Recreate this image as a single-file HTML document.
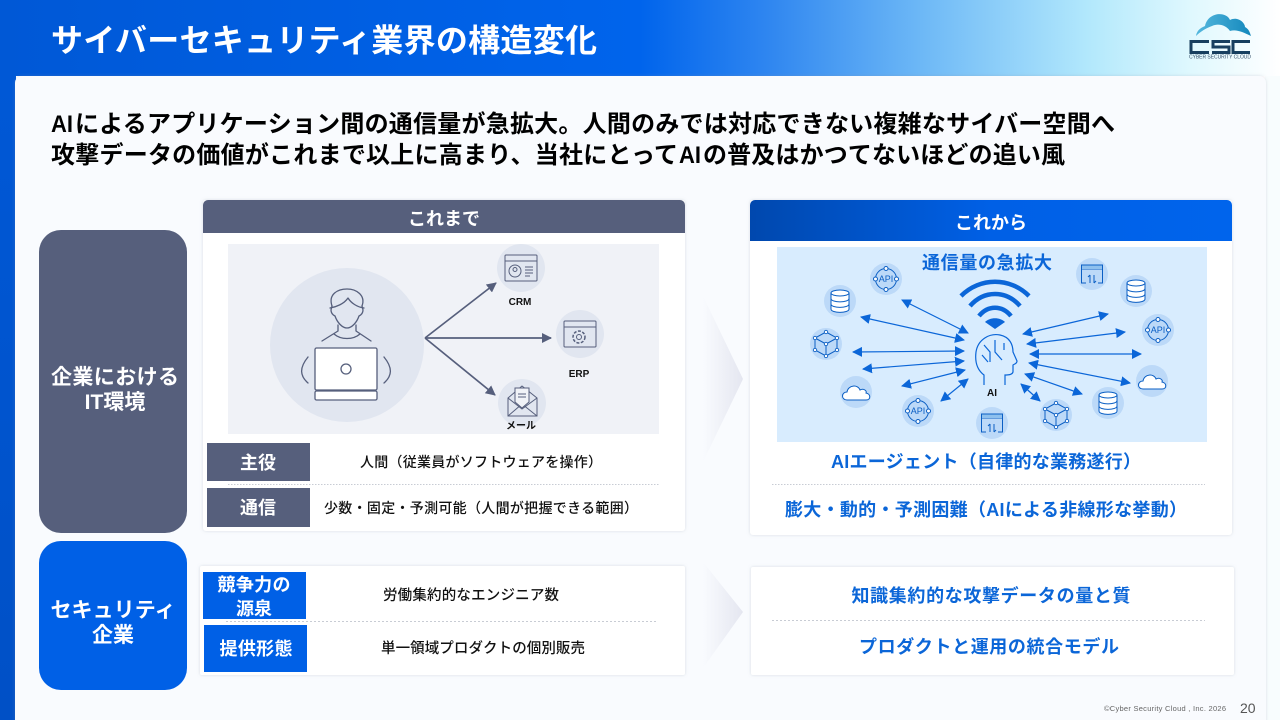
<!DOCTYPE html>
<html lang="ja"><head><meta charset="utf-8"><style>
html,body{margin:0;padding:0;width:1280px;height:720px;overflow:hidden;background:#fff}
svg{display:block}
text{font-family:"Liberation Sans","Noto Sans CJK JP",sans-serif;font-weight:700}
.m{font-weight:500}
.r{font-weight:400}
</style></head><body>
<svg width="1280" height="720" viewBox="0 0 1280 720" xmlns="http://www.w3.org/2000/svg">
<defs>
<linearGradient id="top" x1="0" x2="1" y1="0" y2="0">
<stop offset="0" stop-color="#0058d6"/><stop offset=".5" stop-color="#0064ec"/><stop offset=".6" stop-color="#2f86f0"/><stop offset=".72" stop-color="#6db8f6"/><stop offset=".85" stop-color="#b2e8fc"/><stop offset=".93" stop-color="#dff8fe"/><stop offset="1" stop-color="#ffffff"/>
</linearGradient>
<linearGradient id="lft" x1="0" x2="0" y1="0" y2="1"><stop offset="0" stop-color="#0058d6"/><stop offset="1" stop-color="#0050c6"/></linearGradient>
<linearGradient id="hd" x1="0" x2="1" y1="0" y2="0"><stop offset="0" stop-color="#0048ae"/><stop offset=".5" stop-color="#0060e6"/><stop offset="1" stop-color="#0064ec"/></linearGradient>
<linearGradient id="chev" x1="0" x2="1" y1="0" y2="0"><stop offset="0" stop-color="#f9fbfe"/><stop offset="1" stop-color="#e4e6f0"/></linearGradient>
<linearGradient id="cloud" x1="0" x2="1" y1="0" y2="0"><stop offset="0" stop-color="#54b8de"/><stop offset="1" stop-color="#1488bc"/></linearGradient>
<filter id="sh" x="-5%" y="-5%" width="110%" height="110%"><feDropShadow dx="0" dy="0" stdDeviation="1.600" flood-color="#8a94a8" flood-opacity=".3"/></filter>
<marker id="a" viewBox="0 0 10 10" refX="9" refY="5" markerWidth="10" markerHeight="10" markerUnits="userSpaceOnUse" orient="auto-start-reverse"><path d="M0 0L10 5L0 10z" fill="#0b66d8"/></marker>
<marker id="g" viewBox="0 0 10 10" refX="9" refY="5" markerWidth="10" markerHeight="10" markerUnits="userSpaceOnUse" orient="auto"><path d="M0 0L10 5L0 10z" fill="#565f7c"/></marker>
<g id="db"><g fill="#fff" stroke="#0b5fc4" stroke-width="1"><path d="M-9-8v16c0 4.500 18 4.500 18 0v-16"/><path d="M-9-2.500c0 4.500 18 4.500 18 0M-9 3c0 4.500 18 4.500 18 0"/><ellipse cx="0" cy="-8" rx="9" ry="3"/></g></g>
<g id="api"><circle r="10.500" fill="none" stroke="#0b5fc4"/><g fill="#fff" stroke="#0b5fc4"><circle cy="-10.500" r="2"/><circle cy="10.500" r="2"/><circle cx="-10.500" r="2"/><circle cx="10.500" r="2"/></g></g>
<g id="cube"><g fill="none" stroke="#0b5fc4"><path d="M0-12L11-6V6L0 12L-11 6V-6zM-11-6L0 0L11-6M0 0V12"/></g><g fill="#fff" stroke="#0b5fc4" stroke-width=".9"><circle cy="-12" r="1.700"/><circle cx="11" cy="-6" r="1.700"/><circle cx="11" cy="6" r="1.700"/><circle cy="12" r="1.700"/><circle cx="-11" cy="6" r="1.700"/><circle cx="-11" cy="-6" r="1.700"/><circle r="1.700"/></g></g>
<g id="cl"><path d="M-9 7C-15 7-15-1-9-1C-8-8 2-9 4-3C8-5 11-2 10 0C15 1 15 7 10 7z" fill="#fff" stroke="#0b5fc4"/></g>
<g id="win"><path d="M-6 9H-10.500V-9H10.500V9H6M-10.500-5H10.500" fill="none" stroke="#0b5fc4"/><rect x="-10" y="-8.500" width="20" height="3.500" fill="#8ec0ee"/><path d="M-2 9V1M-4 3L-2 1M2 1V9M4 7L2 9" fill="none" stroke="#0b5fc4"/></g>
</defs>

<rect width="1280" height="76" fill="url(#top)"/>
<rect y="76" width="16" height="644" fill="url(#lft)"/>
<rect x="1265" y="76" width="15" height="644" fill="#f8fdfe"/>
<rect x="15" y="76" width="1251" height="660" rx="7" fill="#f9fbfe" filter="url(#sh)"/>

<text x="51" y="51.500" font-size="32" fill="#fff" textLength="546">サイバーセキュリティ業界の構造変化</text>

<!-- logo -->
<path d="M1196 36C1197 29 1203 27 1205 26C1208 12 1226 11 1230 20C1238 16 1245 23 1245 27C1249 29 1250 33 1251 36C1243 32 1236 29 1230 31C1226 25 1218 23 1212 26C1206 28 1200 32 1196 36z" fill="url(#cloud)"/>
<g fill="none" stroke="#173f5f" stroke-width="3"><path d="M1209 41.500H1191V52.500H1209"/><path d="M1230 41.500H1213V47H1229V52.500H1212"/><path d="M1250 41.500H1233V52.500H1250"/></g>
<text x="1189" y="58.500" font-size="5" fill="#35506a" textLength="62" class="r">CYBER SECURITY CLOUD</text>

<text x="51" y="132" font-size="24" fill="#000" textLength="22" lengthAdjust="spacingAndGlyphs">AI</text>
<text x="75" y="132" font-size="24" fill="#000" textLength="1040">によるアプリケーション間の通信量が急拡大。人間のみでは対応できない複雑なサイバー空間へ</text>
<text x="51" y="163" font-size="24" fill="#000" textLength="627">攻撃データの価値がこれまで以上に高まり、当社にとって</text>
<text x="679" y="163" font-size="24" fill="#000" textLength="22" lengthAdjust="spacingAndGlyphs">AI</text>
<text x="703" y="163" font-size="24" fill="#000" textLength="362">の普及はかつてないほどの追い風</text>

<!-- side labels -->
<rect x="39" y="230" width="148" height="303" rx="22" fill="#565f7c"/>
<rect x="39" y="541" width="148" height="149" rx="22" fill="#0060e6"/>
<g fill="#fff" font-size="21" text-anchor="middle">
<text x="115" y="384" textLength="128">企業における</text>
<text x="115" y="409">IT環境</text>
<text x="113" y="617" textLength="125">セキュリティ</text>
<text x="113" y="642" textLength="42">企業</text>
</g>

<!-- before card -->
<rect x="203" y="200" width="482" height="331" rx="3" fill="#fff" filter="url(#sh)"/>
<path d="M203 233V205a5 5 0 0 1 5-5H680a5 5 0 0 1 5 5V233z" fill="#565f7c"/>
<text x="444" y="225" font-size="18" fill="#fff" text-anchor="middle">これまで</text>
<rect x="228" y="244" width="431" height="190" fill="#f0f2f7"/>
<circle cx="347" cy="345" r="77" fill="#e1e6f0"/>
<g fill="none" stroke="#565f7c" stroke-width="1.300" stroke-linecap="round" stroke-linejoin="round">
<path d="M332 306C328 294 338 289 347 289C356 289 366 295 362 306"/>
<path d="M330 308C336 307 344 304 348 298C351 303 357 307 364 308"/>
<path d="M332 306L331 310C331 313 333 315 335 316C337 322 342 328 347 328C352 328 357 322 359 316C361 315 363 313 363 310L362 306"/>
<path d="M338 325V331L322 341M356 325V331L371 341M334 334C341 340 353 340 360 334"/>
<rect x="315" y="348" width="62" height="42" rx="1.500" fill="#fff"/><rect x="315" y="391" width="62" height="9" rx="1.500" fill="#fff"/>
<circle cx="346" cy="369" r="5"/>
<path d="M308 357C299 368 300 376 308 383M384 357C393 368 392 376 384 383"/>
</g>
<g stroke="#565f7c" stroke-width="1.700" fill="none">
<line x1="425" y1="338" x2="496" y2="283" marker-end="url(#g)"/>
<line x1="425" y1="338" x2="551" y2="338" marker-end="url(#g)"/>
<line x1="425" y1="338" x2="495" y2="395" marker-end="url(#g)"/>
</g>
<circle cx="521" cy="268" r="24" fill="#e1e6f0"/><circle cx="580" cy="334" r="24" fill="#e1e6f0"/><circle cx="522" cy="403" r="24" fill="#e1e6f0"/>
<g fill="none" stroke="#565f7c">
<rect x="505" y="255" width="32" height="26" rx="1"/><path d="M505 261H537"/><circle cx="515" cy="271" r="6"/><circle cx="515" cy="269.500" r="2"/><path d="M525 267H533M525 270H533M525 273H533M525 276H530"/>
<rect x="564" y="321" width="32" height="26" rx="1"/><path d="M564 327H596"/><circle cx="579" cy="337" r="2.500"/><circle cx="579" cy="337" r="6" stroke-dasharray="3 1.500" stroke-width="1.500"/>
<path d="M508 398V416H537V398L522 386zM508 416L522 404L537 416M508 398L522 409L537 398"/><path d="M515 393V388H529V402L522 408L515 402z" fill="#f0f2f7"/><path d="M518 394H526M518 397H526"/>
</g>
<g font-size="10" fill="#111" text-anchor="middle">
<text x="520" y="305">CRM</text><text x="579" y="377">ERP</text><text x="521" y="429">メール</text>
</g>
<rect x="207" y="443" width="103" height="38" fill="#565f7c"/><rect x="207" y="488" width="103" height="39" fill="#565f7c"/>
<g fill="#fff" font-size="18" text-anchor="middle"><text x="258" y="469">主役</text><text x="258" y="514">通信</text></g>
<line x1="228" y1="484.500" x2="660" y2="484.500" stroke="#c8ccd4" stroke-dasharray="1.500 1.500"/>
<g font-size="14" fill="#111" text-anchor="middle">
<text class="m" x="481" y="467" textLength="242">人間（従業員がソフトウェアを操作）</text>
<text class="m" x="481" y="513" textLength="314">少数・固定・予測可能（人間が把握できる範囲）</text>
</g>

<!-- after card -->
<rect x="750" y="200" width="482" height="335" rx="3" fill="#fff" filter="url(#sh)"/>
<path d="M750 241V205a5 5 0 0 1 5-5H1227a5 5 0 0 1 5 5V241z" fill="url(#hd)"/>
<text x="991" y="229" font-size="18" fill="#fff" text-anchor="middle">これから</text>
<rect x="777" y="247" width="430" height="195" fill="#d8ecfe"/>
<text x="987" y="269" font-size="18" fill="#0b66d8" text-anchor="middle" textLength="130">通信量の急拡大</text>
<!-- wifi -->
<g fill="none" stroke="#0b66d8">
<path d="M961 296C980 277 1010 277 1029 296" stroke-width="4.500"/>
<path d="M970 306C984 290 1006 290 1020 306" stroke-width="4.500"/>
<path d="M979 316C988 305 1002 305 1011 316" stroke-width="4.500"/>
</g>
<path d="M985 322C990 317 1000 317 1005 322L995 329z" fill="#0b66d8"/>
<!-- head -->
<g fill="none" stroke="#0b66d8" stroke-width="1.200">
<path d="M984 385V375C976 369 975 360 976 352C978 339 990 333 1000 335C1010 337 1013 345 1013 352L1017 361C1017 364 1014 364 1013 365V372C1012 375 1008 375 1005 375V385"/>
<path d="M984 345L990 352V362M995 340V352L1002 360M982 355L988 362M1004 343V350"/>
</g>
<text x="992" y="396" font-size="10" fill="#111" text-anchor="middle">AI</text>
<!-- arrows -->
<g stroke="#0b66d8" stroke-width="1.200" fill="none">
<line x1="902" y1="300" x2="968" y2="333" marker-start="url(#a)" marker-end="url(#a)"/>
<line x1="861" y1="317" x2="964" y2="340" marker-start="url(#a)" marker-end="url(#a)"/>
<line x1="853" y1="352" x2="964" y2="351" marker-start="url(#a)" marker-end="url(#a)"/>
<line x1="863" y1="369" x2="964" y2="361" marker-start="url(#a)" marker-end="url(#a)"/>
<line x1="902" y1="386" x2="965" y2="370" marker-start="url(#a)" marker-end="url(#a)"/>
<line x1="941" y1="401" x2="968" y2="379" marker-start="url(#a)" marker-end="url(#a)"/>
<line x1="1023" y1="334" x2="1108" y2="314" marker-start="url(#a)" marker-end="url(#a)"/>
<line x1="1027" y1="344" x2="1125" y2="332" marker-start="url(#a)" marker-end="url(#a)"/>
<line x1="1030" y1="354" x2="1141" y2="354" marker-start="url(#a)" marker-end="url(#a)"/>
<line x1="1029" y1="363" x2="1130" y2="383" marker-start="url(#a)" marker-end="url(#a)"/>
<line x1="1025" y1="374" x2="1082" y2="394" marker-start="url(#a)" marker-end="url(#a)"/>
<line x1="1021" y1="384" x2="1040" y2="401" marker-start="url(#a)" marker-end="url(#a)"/>
</g>
<!-- icons -->
<g fill="#bcd9f8">
<circle cx="886" cy="279" r="16"/><circle cx="840" cy="301" r="16"/><circle cx="826" cy="344" r="16"/><circle cx="856" cy="392" r="16"/><circle cx="918" cy="411" r="16"/><circle cx="992" cy="423" r="16"/>
<circle cx="1092" cy="274" r="16"/><circle cx="1136" cy="291" r="16"/><circle cx="1158" cy="330" r="16"/><circle cx="1152" cy="381" r="16"/><circle cx="1108" cy="403" r="16"/><circle cx="1056" cy="415" r="16"/>
</g>
<use href="#api" x="886" y="279"/><use href="#db" x="840" y="301"/><use href="#cube" x="826" y="344"/><use href="#cl" x="856" y="393"/><use href="#api" x="918" y="411"/><use href="#win" x="992" y="423"/>
<use href="#win" x="1092" y="274"/><use href="#db" x="1136" y="291"/><use href="#api" x="1158" y="330"/><use href="#cl" x="1152" y="382"/><use href="#db" x="1108" y="403"/><use href="#cube" x="1056" y="415"/>
<g font-size="9" fill="#0b5fc4" text-anchor="middle"><text class="r" x="886" y="282">API</text><text class="r" x="918" y="414">API</text><text class="r" x="1158" y="333">API</text></g>
<g fill="#0b66d8" text-anchor="middle">
<text x="986" y="468" font-size="18" textLength="310">AIエージェント（自律的な業務遂行）</text>
<text x="986" y="516" font-size="18" textLength="402">膨大・動的・予測困難（AIによる非線形な挙動）</text>
</g>
<line x1="772" y1="484.500" x2="1205" y2="484.500" stroke="#c8ccd4" stroke-dasharray="1.500 1.500"/>

<!-- chevrons -->
<path d="M703 296L743 379L703 462z" fill="url(#chev)"/>
<path d="M703 562L743 612L703 668z" fill="url(#chev)"/>

<!-- bottom cards -->
<rect x="200" y="566" width="485" height="109" rx="2" fill="#fff" filter="url(#sh)"/>
<rect x="203" y="572" width="103" height="47" fill="#0060e6"/><rect x="204" y="625" width="103" height="47" fill="#0060e6"/>
<g fill="#fff" font-size="18" text-anchor="middle">
<text x="254" y="591" textLength="73">競争力の</text><text x="254" y="615">源泉</text><text x="256" y="655" textLength="73">提供形態</text>
</g>
<line x1="226" y1="621.500" x2="656" y2="621.500" stroke="#c8ccd4" stroke-dasharray="2 2"/>
<g font-size="14.500" fill="#111" text-anchor="middle">
<text class="m" x="471" y="600" textLength="176">労働集約的なエンジニア数</text>
<text class="m" x="483" y="653" textLength="204">単一領域プロダクトの個別販売</text>
</g>
<rect x="751" y="567" width="483" height="108" rx="2" fill="#fff" filter="url(#sh)"/>
<g fill="#0b66d8" font-size="18" text-anchor="middle">
<text x="991" y="602" textLength="279">知識集約的な攻撃データの量と質</text>
<text x="989" y="653" textLength="260">プロダクトと運用の統合モデル</text>
</g>
<line x1="772" y1="620.500" x2="1205" y2="620.500" stroke="#c8ccd4" stroke-dasharray="2 2"/>

<text class="r" x="1104" y="711" font-size="7.500" fill="#666" textLength="122">©Cyber Security Cloud , Inc. 2026</text>
<text class="r" x="1240" y="713" font-size="14" fill="#555">20</text>
</svg>
</body></html>
